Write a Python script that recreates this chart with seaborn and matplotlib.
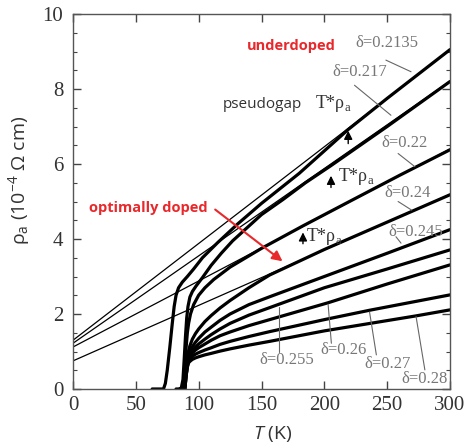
import numpy as np
import pandas as pd
import matplotlib
matplotlib.use("Agg")
import matplotlib.pyplot as plt
from matplotlib.ticker import MultipleLocator
import seaborn as sns

# ---------------- data ----------------
deltas = ["0.2135", "0.217", "0.22", "0.24", "0.245", "0.255", "0.26", "0.27", "0.28"]

T_2135 = [63, 72, 73.5, 75, 77, 79, 80.5, 82, 84, 87, 91, 96, 103, 115, 131, 150, 180, 200, 219, 250, 300]
r_2135 = [0, 0, 0.15, 0.5, 1.1, 1.75, 2.2, 2.5, 2.7, 2.85, 3.0, 3.2, 3.5, 3.9, 4.4, 4.95, 5.75, 6.35, 6.92, 7.75, 9.05]

T_217 = [82, 86, 87.5, 88.5, 89.5, 90.5, 91.5, 93, 95, 98, 103, 110, 118, 127, 150, 167, 185, 205, 250, 300]
r_217 = [0, 0, 0.25, 0.8, 1.4, 1.9, 2.2, 2.45, 2.6, 2.75, 2.97, 3.3, 3.62, 3.95, 4.65, 5.05, 5.5, 5.95, 7.0, 8.2]

T_22 = [85, 88, 89, 90, 91, 92, 93.5, 96, 100, 105, 112, 125, 150, 183, 220, 260, 300]
r_22 = [0, 0, 0.5, 1.1, 1.5, 1.75, 2.0, 2.25, 2.5, 2.7, 2.92, 3.25, 3.75, 4.35, 5.0, 5.7, 6.38]

T_24 = [85, 88.5, 89.5, 90.5, 91.5, 93, 95, 97.5, 100, 105, 110, 117, 125, 140, 156.5, 200, 250, 300]
r_24 = [0, 0, 0.4, 0.75, 0.95, 1.15, 1.33, 1.48, 1.6, 1.8, 1.96, 2.16, 2.36, 2.7, 3.04, 3.72, 4.45, 5.18]

T_245 = [85, 88.5, 89.5, 90.5, 91.5, 93, 95, 97.5, 100, 105, 110, 117, 125, 140, 156.5, 200, 250, 300]
r_245 = [0, 0, 0.4, 0.7, 0.87, 1.0, 1.13, 1.25, 1.35, 1.52, 1.65, 1.83, 2.0, 2.25, 2.46, 3.0, 3.62, 4.25]

T_255 = [86, 88.5, 89.5, 90.5, 91.5, 93, 95, 97.5, 100, 105, 110, 117, 125, 140, 156.5, 200, 250, 300]
r_255 = [0, 0, 0.35, 0.65, 0.82, 0.93, 1.03, 1.12, 1.2, 1.33, 1.45, 1.6, 1.75, 1.97, 2.17, 2.7, 3.2, 3.71]

T_26 = [86, 89, 90, 91, 92, 93.5, 95, 97.5, 100, 105, 110, 117, 125, 140, 156.5, 203, 250, 300]
r_26 = [0, 0, 0.35, 0.65, 0.8, 0.89, 0.96, 1.04, 1.1, 1.2, 1.3, 1.42, 1.52, 1.69, 1.85, 2.3, 2.8, 3.31]

T_27 = [86, 89, 90, 91, 92, 93.5, 95, 97.5, 100, 105, 110, 117, 125, 140, 156.5, 200, 236, 300]
r_27 = [0, 0, 0.35, 0.6, 0.75, 0.82, 0.87, 0.93, 0.97, 1.04, 1.1, 1.19, 1.27, 1.4, 1.53, 1.85, 2.1, 2.51]

T_28 = [86, 89, 90, 91, 92, 93.5, 95, 97.5, 100, 105, 110, 117, 125, 140, 156.5, 200, 273, 300]
r_28 = [0, 0, 0.35, 0.58, 0.7, 0.75, 0.79, 0.83, 0.86, 0.91, 0.95, 1.01, 1.07, 1.17, 1.27, 1.55, 1.95, 2.11]

curves_T = [T_2135, T_217, T_22, T_24, T_245, T_255, T_26, T_27, T_28]
curves_r = [r_2135, r_217, r_22, r_24, r_245, r_255, r_26, r_27, r_28]

# linear high-T extrapolations (value at T=0 and at T=300)
fit_T = [0, 300]
fit_r0 = [1.30, 1.22, 1.12, 0.75]
fit_r300 = [9.04, 8.21, 6.40, 5.19]

# delta labels: text position, pointer start, pointer end
lab_text = ["δ=0.2135", "δ=0.217", "δ=0.22", "δ=0.24", "δ=0.245", "δ=0.255", "δ=0.26", "δ=0.27", "δ=0.28"]
lab_xy = [(250, 9.22), (228, 8.44), (264, 6.55), (266, 5.22), (273, 4.2), (170, 0.77), (215, 1.04), (250, 0.67), (280, 0.27)]
ptr_from = [(249, 8.77), (224, 8.1), (258.7, 6.28), (258.7, 5.0), (257, 4.06), (164, 1.0), (205.6, 1.22), (241.4, 0.91), (280, 0.51)]
ptr_to = [(269, 8.46), (253, 7.3), (272, 5.93), (269.5, 4.77), (261, 3.89), (164, 2.2), (203, 2.26), (236, 2.05), (273, 1.93)]

tstar_T = [219, 205.3, 183]
tstar_lo = [6.47, 5.3, 3.8]
tstar_hi = [6.96, 5.76, 4.25]
tstar_lab = [(192.3, 7.6), (210.7, 5.66), (185.7, 4.06)]

# ---------------- style ----------------
sns.set_style("ticks")
plt.rcParams["font.family"] = ["Liberation Serif", "DejaVu Serif"]
plt.rcParams["mathtext.fontset"] = "custom"
plt.rcParams["mathtext.rm"] = "Open Sans"
plt.rcParams["mathtext.it"] = "Open Sans:italic"

fig = plt.figure(figsize=(4.7, 4.47), dpi=100)
ax = fig.add_axes([73 / 470, 1 - 389 / 447, 377 / 470, 375 / 447])

rows = []
for d, Ts, rs in zip(deltas, curves_T, curves_r):
    for t, r in zip(Ts, rs):
        rows.append({"delta": d, "T": t, "rho": r})
df = pd.DataFrame(rows)

fit_rows = []
for i, (a, b) in enumerate(zip(fit_r0, fit_r300)):
    fit_rows.append({"fit": i, "T": fit_T[0], "rho": a})
    fit_rows.append({"fit": i, "T": fit_T[1], "rho": b})
dff = pd.DataFrame(fit_rows)

sns.lineplot(data=dff, x="T", y="rho", units="fit", estimator=None, color="black",
             linewidth=0.9, ax=ax, legend=False, sort=False)
sns.lineplot(data=df, x="T", y="rho", units="delta", estimator=None, color="black",
             linewidth=2.3, ax=ax, legend=False, sort=False)

ax.set_xlim(0, 300)
ax.set_ylim(0, 10)
ax.xaxis.set_major_locator(MultipleLocator(50))
ax.yaxis.set_major_locator(MultipleLocator(2))
ax.yaxis.set_minor_locator(MultipleLocator(0.5))
ax.tick_params(which="both", direction="in", top=True, right=True, colors="#444",
               labelcolor="#333", labelsize=15)
ax.tick_params(which="major", length=6, width=1)
ax.tick_params(which="minor", length=3, width=0.8)
ax.tick_params(axis="x", pad=5)
ax.tick_params(axis="y", pad=7)
for s in ax.spines.values():
    s.set_color("#555")
    s.set_linewidth(1.0)

ax.set_xlabel(r"$\mathit{T}$ (K)", fontsize=14, family="Open Sans", color="#333")
ax.set_ylabel(r"ρ$_\mathregular{a}$ (10$^\mathregular{-4}$ Ω cm)", fontsize=14,
              family="Open Sans", color="#333")
ax.xaxis.set_label_coords(0.53, -0.093)
ax.yaxis.set_label_coords(-0.108, 0.557)

for txt, xy, p0, p1 in zip(lab_text, lab_xy, ptr_from, ptr_to):
    ax.text(xy[0], xy[1], txt, fontsize=12, color="#777", ha="center", va="center")
    ax.plot([p0[0], p1[0]], [p0[1], p1[1]], color="#666", linewidth=0.8)

for t, lo, hi, lp in zip(tstar_T, tstar_lo, tstar_hi, tstar_lab):
    ax.annotate("", xy=(t, hi), xytext=(t, lo),
                arrowprops=dict(arrowstyle="-|>,head_length=0.5,head_width=0.25", color="black", lw=1.0))
    ax.text(lp[0], lp[1], r"T*ρ$_\mathregular{a}$", fontsize=13, color="#333", ha="left", va="center")

ax.text(174, 9.15, "underdoped", fontsize=10.5, color="#e8282b", fontweight="bold",
        family="Open Sans", ha="center", va="center")
ax.text(59.8, 4.83, "optimally doped", fontsize=10.5, color="#e8282b", fontweight="bold",
        family="Open Sans", ha="center", va="center")
ax.text(150.5, 7.6, "pseudogap", fontsize=11, color="#333", family="Open Sans",
        ha="center", va="center")
ax.annotate("", xy=(168.5, 3.36), xytext=(111.4, 4.83),
            arrowprops=dict(arrowstyle="-|>,head_length=0.6,head_width=0.3", color="#e8282b", lw=1.5))

fig.savefig("out.png", dpi=100)
